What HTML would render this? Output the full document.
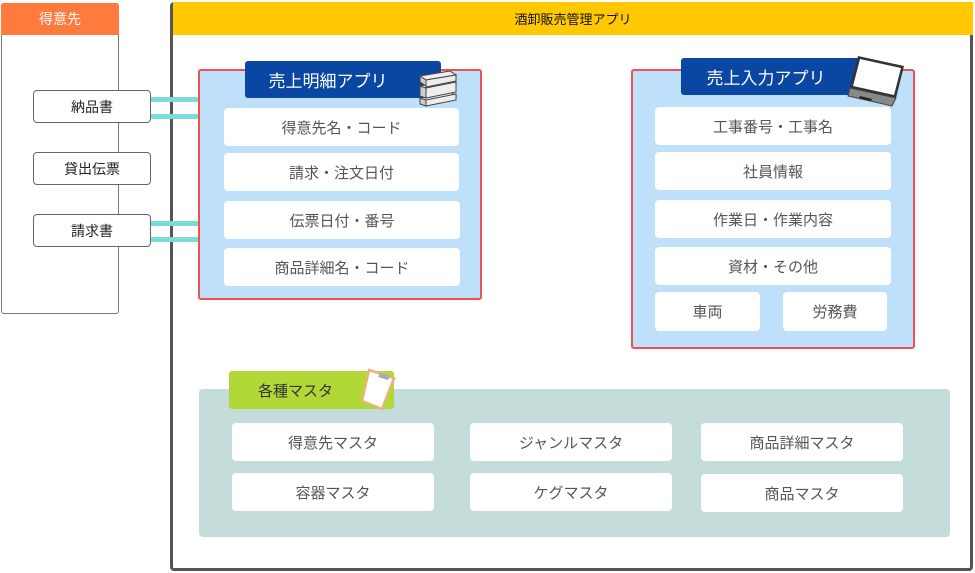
<!DOCTYPE html>
<html><head><meta charset="utf-8"><style>
*{margin:0;padding:0;box-sizing:border-box}
body{width:975px;height:573px;background:#fff;position:relative;overflow:hidden;font-family:"Liberation Sans","Noto Sans CJK JP",sans-serif}
.a{position:absolute}
.card{position:absolute;background:#fff;border:1px solid #666;border-radius:4px;display:flex;align-items:center;justify-content:center;font-size:14px;color:#222}
.it{position:absolute;background:#fff;border-radius:4px;display:flex;align-items:center;justify-content:center;font-size:15px;color:#555}
.ln{position:absolute;background:#7ADDD8;height:5px;left:151px;width:48px}
</style></head><body>
<div class="a" style="left:1px;top:3px;width:118px;height:311px;border:1px solid #777;border-radius:3px"></div>
<div class="a" style="left:1px;top:3px;width:118px;height:32px;background:#FF7A3D;border-radius:3px 3px 0 0;color:#fff;font-size:14px;display:flex;align-items:center;justify-content:center">得意先</div>
<div class="card" style="left:33px;top:90px;width:118px;height:33px">納品書</div>
<div class="card" style="left:33px;top:152px;width:118px;height:33px">貸出伝票</div>
<div class="card" style="left:33px;top:214px;width:118px;height:33px">請求書</div>
<div class="a" style="left:170px;top:2px;width:803px;height:569px;border:3px solid #555;border-radius:4px"></div>
<div class="a" style="left:173px;top:2px;width:800px;height:33px;background:#FFC800;font-size:13px;display:flex;align-items:center;justify-content:center;color:#111">酒卸販売管理アプリ</div>
<div class="ln" style="top:97px"></div><div class="ln" style="top:114px"></div>
<div class="ln" style="top:221px"></div><div class="ln" style="top:237px"></div>

<div class="a" style="left:198px;top:69px;width:284px;height:231px;background:#BEE0FA;border:2px solid #F05050;border-radius:3px"></div>
<div class="a" style="left:245px;top:61px;width:196px;height:37px;background:#0A47A3;border-radius:3px;color:#fff;font-size:17px;display:flex;align-items:center;justify-content:center;padding-right:30px">売上明細アプリ</div>
<svg class="a" style="left:418px;top:70px" width="40" height="38"><g fill="#eee" stroke="#444" stroke-width="1"><path d="M2 28l30-6 6 4-30 6z"/><path d="M2 28v6l6 2v-6z" fill="#ccc"/><path d="M8 30l30-6v6l-30 6z"/><path d="M2 16l30-6 6 4-30 6z"/><path d="M8 18l30-6v10l-30 6z"/><path d="M2 16v10l6 2v-10z" fill="#ccc"/><path d="M2 6l30-5 6 4-30 5z"/><path d="M8 10l30-5v6l-30 6z"/><path d="M2 6v6l6 4v-6z" fill="#ccc"/></g></svg>
<div class="it" style="left:224px;top:108px;width:235px;height:38px">得意先名・コード</div>
<div class="it" style="left:224px;top:153px;width:235px;height:38px">請求・注文日付</div>
<div class="it" style="left:224px;top:201px;width:236px;height:38px">伝票日付・番号</div>
<div class="it" style="left:224px;top:248px;width:236px;height:38px">商品詳細名・コード</div>

<div class="a" style="left:631px;top:69px;width:284px;height:280px;background:#BEE0FA;border:2px solid #F05050;border-radius:3px"></div>
<div class="a" style="left:681px;top:58px;width:182px;height:37px;background:#0A47A3;border-radius:3px;color:#fff;font-size:17px;display:flex;align-items:center;justify-content:center;padding-right:12px">売上入力アプリ</div>
<svg class="a" style="left:846px;top:54px" width="60" height="56"><path d="M12 2l46 10-8 32-46-10z" fill="#333"/><path d="M14 5l41 9-7 27-41-9z" fill="#fff"/><path d="M4 34l46 10-4 8-44-10z" fill="#888" stroke="#444"/><path d="M14 42l12 3-1 2-12-3z" fill="#222"/></svg>
<div class="it" style="left:655px;top:107px;width:236px;height:38px">工事番号・工事名</div>
<div class="it" style="left:655px;top:152px;width:236px;height:38px">社員情報</div>
<div class="it" style="left:655px;top:200px;width:236px;height:38px">作業日・作業内容</div>
<div class="it" style="left:655px;top:247px;width:236px;height:38px">資材・その他</div>
<div class="it" style="left:655px;top:292px;width:105px;height:39px">車両</div>
<div class="it" style="left:783px;top:292px;width:104px;height:39px">労務費</div>

<div class="a" style="left:199px;top:389px;width:751px;height:148px;background:#C5DDDA;border-radius:4px"></div>
<div class="a" style="left:229px;top:371px;width:165px;height:38px;background:#B1D836;border-radius:3px;font-size:15px;color:#333;display:flex;align-items:center;padding-left:29px">各種マスタ</div>
<svg class="a" style="left:360px;top:368px" width="42" height="44"><path d="M9 2l25 8-12 31-20-8z" fill="#fff" stroke="#E6B57A" stroke-width="2.5"/><path d="M20 5l10 3-2 4-10-3z" fill="#aaa"/></svg>
<div class="it" style="left:232px;top:423px;width:202px;height:38px">得意先マスタ</div>
<div class="it" style="left:470px;top:423px;width:202px;height:38px">ジャンルマスタ</div>
<div class="it" style="left:701px;top:423px;width:202px;height:38px">商品詳細マスタ</div>
<div class="it" style="left:232px;top:473px;width:202px;height:38px">容器マスタ</div>
<div class="it" style="left:470px;top:473px;width:202px;height:38px">ケグマスタ</div>
<div class="it" style="left:701px;top:474px;width:202px;height:38px">商品マスタ</div>
</body></html>
